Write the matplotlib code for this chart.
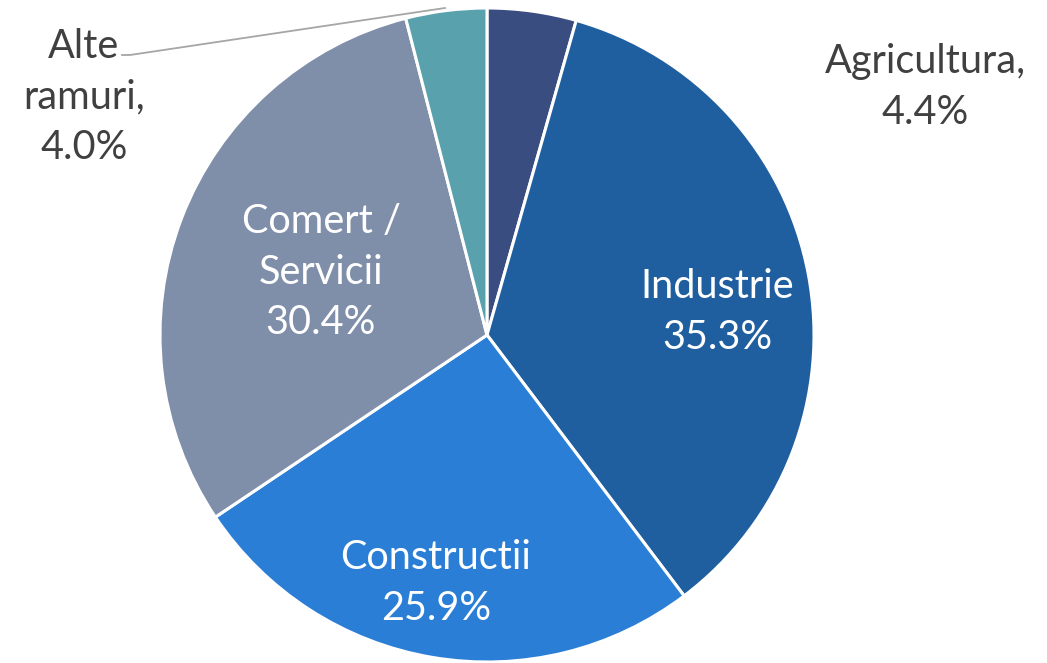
import matplotlib
matplotlib.use("Agg")
import matplotlib.pyplot as plt
import numpy as np

categories = ["Agricultura", "Industrie", "Constructii", "Comert /\nServicii", "Alte\nramuri"]
values = [4.4, 35.3, 25.9, 30.4, 4.0]
colors = ["#3A4D80", "#1F5F9F", "#2B7ED6", "#7F8EA9", "#5AA1AE"]

W, H = 1047, 663
fig = plt.figure(figsize=(W / 100, H / 100), dpi=100)
ax = fig.add_axes([0, 0, 1, 1])

cx, cy, r = 487, H - 335, 327
wedges, _ = ax.pie(values, colors=colors, startangle=90, counterclock=False,
                   center=(cx, cy), radius=r, frame=True,
                   wedgeprops=dict(edgecolor="white", linewidth=2.2))
ax.set_xlim(0, W)
ax.set_ylim(0, H)
ax.set_aspect("equal")
ax.axis("off")

font = ["Lato", "DejaVu Sans"]
fs = 28.5
ls = 1.45

# inner labels
inner = {1: (717, H - 312), 2: (436, H - 583), 3: (321, H - 272)}
for i, (x, y) in inner.items():
    ax.text(x, y, f"{categories[i]}\n{values[i]:.1f}%", ha="center", va="center",
            color="white", fontsize=fs, family=font, linespacing=ls)

# outer labels
ax.text(925, H - 87, f"{categories[0]},\n{values[0]:.1f}%", ha="center", va="center",
        color="#404040", fontsize=fs, family=font, linespacing=ls)
ax.text(84, H - 97, f"{categories[4]},\n{values[4]:.1f}%",
        ha="center", va="center", color="#404040", fontsize=fs, family=font, linespacing=ls)
# leader line for Alte ramuri
ax.plot([122, 130, 445], [H - 55, H - 55, H - 8], color="#A6A6A6", lw=1.3)

fig.savefig("out.png", dpi=100)
